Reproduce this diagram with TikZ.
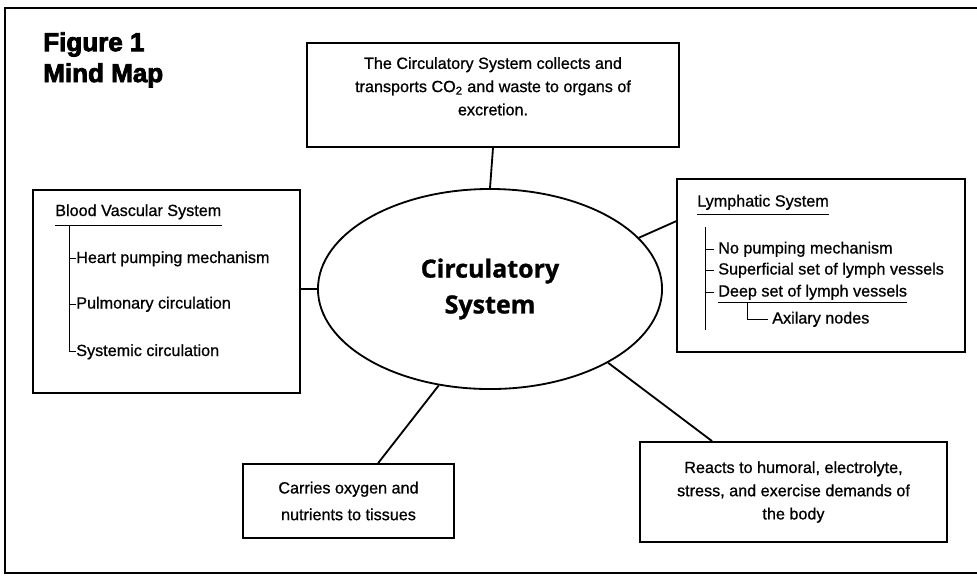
\documentclass[tikz,border=0pt]{standalone}
\usepackage{fontspec}
\setmainfont{Liberation Sans}[UprightFeatures={FakeBold=0.8}]
\newfontfamily\hubfont{Open Sans}[BoldFeatures={FakeBold=1}]
\newfontfamily\headfont{Liberation Sans}[BoldFeatures={FakeBold=3}]
\usetikzlibrary{shapes.geometric}

\begin{document}
\begin{tikzpicture}[x=0.025cm, y=-0.025cm,
			box/.style={draw=black, line width=1.2pt, inner sep=2pt, align=center},
			hub/.style={ellipse, draw=black, line width=1.3pt, minimum width=8.6cm, minimum height=5cm, inner sep=0pt, align=center, font=\hubfont\bfseries\fontsize{17.8}{25.5}\selectfont},
			txt/.style={font=\fontsize{11.5}{16.5}\selectfont},
			item/.style={txt, anchor=base west, inner sep=0pt},
			spoke/.style={line width=1.3pt},
			twig/.style={line width=0.7pt},
		]
			\useasboundingbox (0,0) rectangle (977,575);

			%Frame
			\draw[line width=1.4pt] (977,8) -- (5,8) -- (5,573) -- (977,573);

			%Nodes
			\node[anchor=north west, inner sep=0pt, align=left, font=\headfont\bfseries\fontsize{18.5}{22}\selectfont] (fig) at (43,32) {Figure 1\\Mind Map};
			\node[hub]	(circ)	at (490,289)	{Circulatory\\System};
			\node[box, txt, minimum width=9.3cm, minimum height=2.6cm]	(excr)	at (493,95)	{The Circulatory System collects and\\transports CO\textsubscript{2} and waste to organs of\\excretion.\\[-4pt]};
			\node[box, minimum width=6.675cm, minimum height=5.075cm]	(blood)	at (166.5,291.5)	{};
			\node[box, minimum width=7.2cm, minimum height=4.325cm]	(lymph)	at (821,265.5)	{};
			\node[box, txt, font=\fontsize{11.5}{19}\selectfont, minimum width=5.275cm, minimum height=1.85cm]	(oxy)	at (348.5,501)	{Carries oxygen and\\nutrients to tissues};
			\node[box, txt, minimum width=7.675cm, minimum height=2.5cm]	(demand)	at (793.5,492)	{Reacts to humoral, electrolyte,\\stress, and exercise demands of\\the body};

			%Blood vascular list
			\node[item]	(bvs)	at (55,216)	{Blood Vascular System};
			\node[item]	(heart)	at (76,263)	{Heart pumping mechanism};
			\node[item]	(pulm)	at (76,308.5)	{Pulmonary circulation};
			\node[item]	(syst)	at (76,356)	{Systemic circulation};
			\coordinate (bvroot) at (69,226);

			%Lymphatic list
			\node[item]	(lys)	at (697,206.5)	{Lymphatic System};
			\node[item]	(nopump)	at (718,253.5)	{No pumping mechanism};
			\node[item]	(superf)	at (718,274.5)	{Superficial set of lymph vessels};
			\node[item]	(deep)	at (718,296.5)	{Deep set of lymph vessels};
			\node[item]	(axil)	at (772,323.5)	{Axilary nodes};
			\coordinate (lyroot) at (705,227);
			\coordinate (lyend) at (705,330);
			\coordinate (axroot) at (747,303);

			%Lines
			\draw[spoke]	(excr.south) -- (circ.north);
			\draw[spoke]	(circ.west) -- (circ.west -| blood.east);
			\draw[spoke]	(circ.19) -- (lymph.163);
			\draw[spoke]	(circ.242) -- (oxy.52);
			\draw[spoke]	(circ.328) -- (demand.148);

			\draw[twig]	([yshift=-2.3mm]bvs.base west) -- ([yshift=-2.3mm]bvs.base east);
			\draw[twig]	(bvroot) |- (syst.west);
			\draw[twig]	(heart.west) -- (heart.west -| bvroot);
			\draw[twig]	(pulm.west) -- (pulm.west -| bvroot);

			\draw[twig]	([yshift=-2.1mm]lys.base west) -- ([yshift=-2.1mm]lys.base east);
			\draw[twig]	(lyroot) -- (lyend);
			\draw[twig]	([xshift=-1mm]nopump.west) -- (nopump.west -| lyroot);
			\draw[twig]	([xshift=-1mm]superf.west) -- (superf.west -| lyroot);
			\draw[twig]	([xshift=-1mm]deep.west) -- (deep.west -| lyroot);
			\draw[twig]	([yshift=-1.6mm]deep.base west) -- ([yshift=-1.6mm]deep.base east);
			\draw[twig]	(axroot) |- ([xshift=-1mm]axil.west);

		\end{tikzpicture}
\end{document}
